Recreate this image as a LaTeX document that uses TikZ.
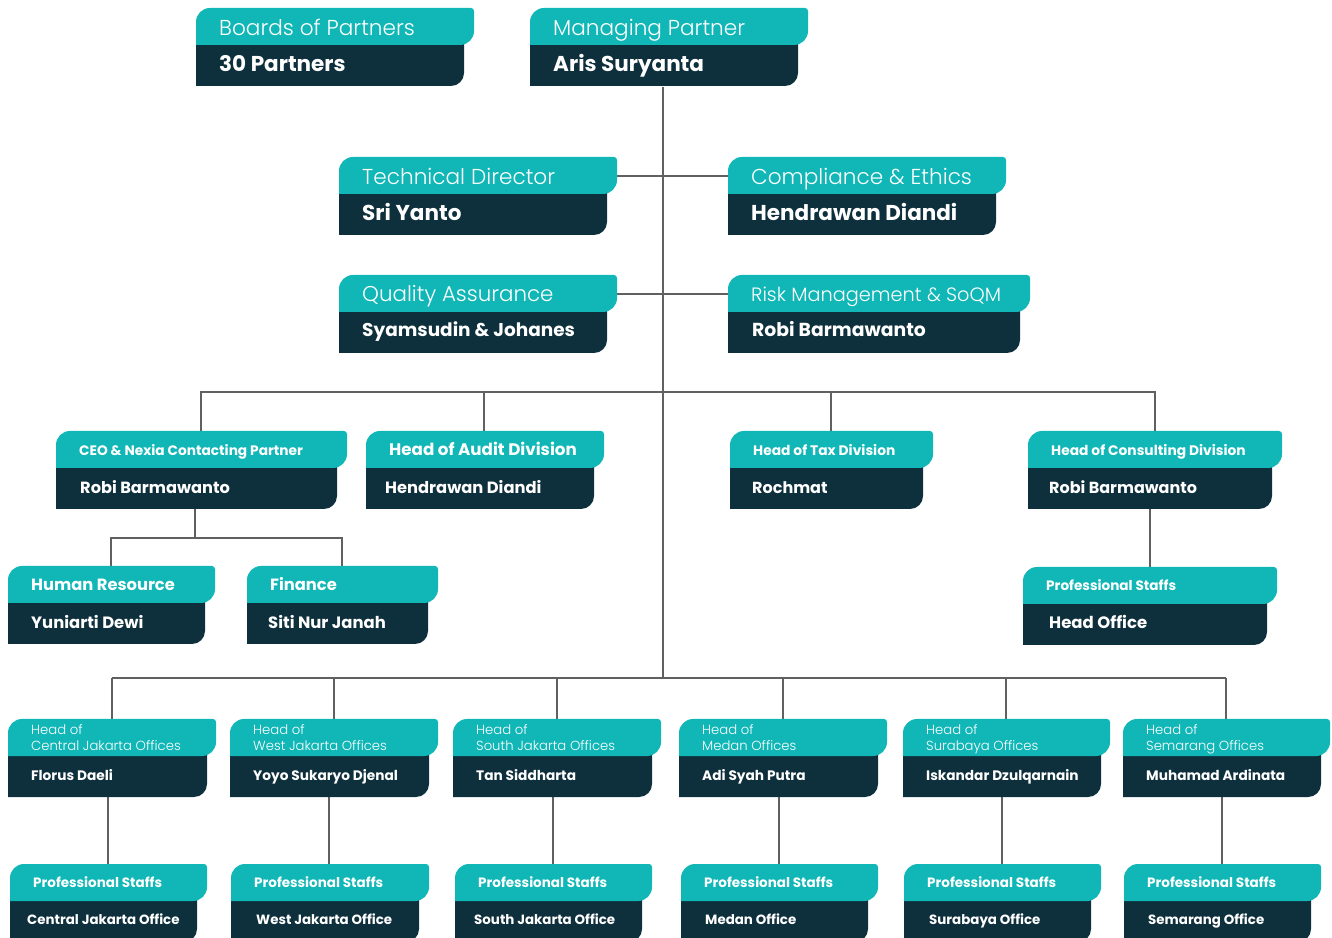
\documentclass[tikz,border=0pt]{standalone}
\usepackage{fontspec}
\setmainfont{Poppins}
\newfontfamily\lightf{Poppins Light}
\definecolor{tl}{HTML}{11B7B7}
\definecolor{dk}{HTML}{0E2F3C}
\definecolor{ln}{HTML}{606060}
\def\tyo{0}\def\byo{0}
\tikzset{
  lbl/.style={inner sep=0pt, text height=1.0em, text depth=0pt, anchor=west, text=white},
  wire/.style={draw=ln, line width=2.4pt},
  set big/.style={/utils/exec={\def\tyo{3.5}\def\byo{3}}, tf/.style={font=\lightf\fontsize{21.6}{26}\selectfont}, bf/.style={font=\bfseries\fontsize{21.5}{26}\selectfont}},
  set qa/.style={/utils/exec={\def\tyo{3}\def\byo{0.5}}, tf/.style={font=\lightf\fontsize{21.4}{26}\selectfont}, bf/.style={font=\bfseries\fontsize{18.5}{22}\selectfont}},
  set risk/.style={/utils/exec={\def\tyo{3}\def\byo{0.5}}, tf/.style={font=\lightf\fontsize{19.3}{23}\selectfont}, bf/.style={font=\bfseries\fontsize{18.8}{22}\selectfont}},
  set ceo/.style={/utils/exec={\def\tyo{0.5}\def\byo{2}}, tf/.style={font=\bfseries\fontsize{13.7}{16}\selectfont}, bf/.style={font=\bfseries\fontsize{16.2}{19}\selectfont}},
  set audit/.style={/utils/exec={\def\tyo{1}\def\byo{2}}, tf/.style={font=\bfseries\fontsize{16.7}{20}\selectfont}, bf/.style={font=\bfseries\fontsize{16.3}{19}\selectfont}},
  set tax/.style={/utils/exec={\def\tyo{0.5}\def\byo{2}}, tf/.style={font=\bfseries\fontsize{13.8}{16}\selectfont}, bf/.style={font=\bfseries\fontsize{16}{19}\selectfont}},
  set hr/.style={/utils/exec={\def\tyo{1}\def\byo{2}}, tf/.style={font=\bfseries\fontsize{16.3}{19}\selectfont}, bf/.style={font=\bfseries\fontsize{16.4}{19}\selectfont}},
  set ho/.style={/utils/exec={\def\tyo{0}\def\byo{1}}, tf/.style={font=\bfseries\fontsize{13.6}{16}\selectfont}, bf/.style={font=\bfseries\fontsize{16.5}{19}\selectfont}},
  set off/.style={/utils/exec={\def\tyo{0}\def\byo{0}}, tf/.style={font=\lightf\fontsize{13.2}{16}\selectfont}, bf/.style={font=\bfseries\fontsize{13.7}{16}\selectfont}},
  set staff/.style={/utils/exec={\def\tyo{-1}\def\byo{-1}}, tf/.style={font=\bfseries\fontsize{13.5}{16}\selectfont}, bf/.style={font=\bfseries\fontsize{13.4}{16}\selectfont}},
}
% #1 name, #2 left, #3 top (px from top), #4 teal right, #5 style set, #6 top text, #7 bottom text, #8 bottom text inset
\newcommand\obox[8]{%
  \begin{scope}[#5]
  \pgfmathsetmacro\tY{937-#3}%
  \pgfmathsetmacro\tbY{937-#3-37}%
  \pgfmathsetmacro\bY{937-#3-78}%
  \pgfmathsetmacro\rd{#4-10}%
  \fill[dk] (#2,\tbY+3) -- (\rd,\tbY+3) -- (\rd,\bY+13) arc[start angle=0,end angle=-90,radius=13] -- (#2,\bY) -- cycle;
  \fill[tl] (#2,\tbY) -- (#2,\tY-14) arc[start angle=180,end angle=90,radius=14] -- (#4-3,\tY) arc[start angle=90,end angle=0,radius=3] -- (#4,\tbY+14) arc[start angle=0,end angle=-90,radius=14] -- cycle;
  \node[lbl,tf] (#1-t) at (#2+23,{937-#3-19-\tyo}) {#6};
  \node[lbl,bf] (#1-b) at (#2+#8,{937-#3-56-\byo}) {#7};
  \end{scope}}
% office head box with two-line title
\newcommand\ofbox[6]{%
  \begin{scope}[set off]
  \pgfmathsetmacro\tY{937-#3}%
  \pgfmathsetmacro\tbY{937-#3-37}%
  \pgfmathsetmacro\bY{937-#3-78}%
  \pgfmathsetmacro\rd{#4-9}%
  \fill[dk] (#2,\tbY+3) -- (\rd,\tbY+3) -- (\rd,\bY+13) arc[start angle=0,end angle=-90,radius=13] -- (#2,\bY) -- cycle;
  \fill[tl] (#2,\tbY) -- (#2,\tY-14) arc[start angle=180,end angle=90,radius=14] -- (#4-3,\tY) arc[start angle=90,end angle=0,radius=3] -- (#4,\tbY+14) arc[start angle=0,end angle=-90,radius=14] -- cycle;
  \node[inner sep=0pt, anchor=base west, align=left, text=white, tf] (#1-t) at (#2+23,{937-#3-31}) {Head of\\#5};
  \node[lbl,bf] (#1-b) at (#2+23,{937-#3-56}) {#6};
  \end{scope}}
\begin{document}
\begin{tikzpicture}[x=1pt,y=1pt]
\useasboundingbox (0,0) rectangle (1332,937);
\clip (0,0) rectangle (1332,937);
% ---------- connector coordinates ----------
\coordinate (mp-bot) at (663,850);
\coordinate (trunk-end) at (663,259);
\coordinate (td-r) at (617,761);
\coordinate (ce-l) at (728,761);
\coordinate (qa-r) at (617,643);
\coordinate (rm-l) at (728,643);
\coordinate (bus1-l) at (201,545);
\coordinate (bus1-r) at (1155,545);
\coordinate (ceo-top) at (201,506);
\coordinate (aud-top) at (484,506);
\coordinate (aud-j) at (484,545);
\coordinate (tax-top) at (831,506);
\coordinate (tax-j) at (831,545);
\coordinate (con-top) at (1155,506);
\coordinate (ceo-bot) at (195,428);
\coordinate (ceo-j) at (195,399);
\coordinate (bus2-l) at (111,399);
\coordinate (bus2-r) at (342,399);
\coordinate (hr-top) at (111,371);
\coordinate (fin-top) at (342,371);
\coordinate (con-bot) at (1150,428);
\coordinate (ho-top) at (1150,370);
\coordinate (bus3-l) at (112,259);
\coordinate (bus3-r) at (1226,259);
\foreach \n/\x/\xs in {cj/112/108, wj/334/329, sj/557/553, md/783/779, sb/1006/1002, sm/1226/1222}{
  \coordinate (\n-j) at (\x,259);
  \coordinate (\n-top) at (\x,218);
  \coordinate (\n-bot) at (\xs,140);
  \coordinate (\n-stop) at (\xs,73);
}
% ---------- connectors ----------
\draw[wire] (mp-bot) -- (trunk-end);
\draw[wire] (td-r) -- (ce-l);
\draw[wire] (qa-r) -- (rm-l);
\draw[wire] (ceo-top) -- (bus1-l) -- (bus1-r) -- (con-top);
\draw[wire] (aud-j) -- (aud-top);
\draw[wire] (tax-j) -- (tax-top);
\draw[wire] (ceo-bot) -- (ceo-j);
\draw[wire] (hr-top) -- (bus2-l) -- (bus2-r) -- (fin-top);
\draw[wire] (con-bot) -- (ho-top);
\draw[wire] (bus3-l) -- (bus3-r);
\foreach \n in {cj,wj,sj,md,sb,sm}{
  \draw[wire] (\n-j) -- (\n-top);
  \draw[wire] (\n-bot) -- (\n-stop);
}
% ---------- boxes ----------
\obox{bp}{196}{8}{474}{set big}{Boards of Partners}{30 Partners}{23}
\obox{mp}{530}{8}{808}{set big}{Managing Partner}{Aris Suryanta}{23}
\obox{td}{339}{157}{617}{set big}{Technical Director}{Sri Yanto}{23}
\obox{ce}{728}{157}{1006}{set big}{Compliance \& Ethics}{Hendrawan Diandi}{23}
\obox{qa}{339}{275}{617}{set qa}{Quality Assurance}{Syamsudin \& Johanes}{23}
\obox{rm}{728}{275}{1030}{set risk}{Risk Management \& SoQM}{Robi Barmawanto}{24}
\obox{ceo}{56}{431}{347}{set ceo}{CEO \& Nexia Contacting Partner}{Robi Barmawanto}{24}
\obox{aud}{366}{431}{604}{set audit}{Head of Audit Division}{Hendrawan Diandi}{19}
\obox{tax}{730}{431}{933}{set tax}{Head of Tax Division}{Rochmat}{22}
\obox{con}{1028}{431}{1282}{set tax}{Head of Consulting Division}{Robi Barmawanto}{21}
\obox{hr}{8}{566}{215}{set hr}{Human Resource}{Yuniarti Dewi}{23}
\obox{fin}{247}{566}{438}{set hr}{Finance}{Siti Nur Janah}{21}
\obox{ho}{1023}{567}{1277}{set ho}{Professional Staffs}{Head Office}{26}
\ofbox{ocj}{8}{719}{216}{Central Jakarta Offices}{Florus Daeli}
\ofbox{owj}{230}{719}{438}{West Jakarta Offices}{Yoyo Sukaryo Djenal}
\ofbox{osj}{453}{719}{661}{South Jakarta Offices}{Tan Siddharta}
\ofbox{omd}{679}{719}{887}{Medan Offices}{Adi Syah Putra}
\ofbox{osb}{903}{719}{1110}{Surabaya Offices}{Iskandar Dzulqarnain}
\ofbox{osm}{1123}{719}{1330}{Semarang Offices}{Muhamad Ardinata}
\obox{scj}{10}{864}{207}{set staff}{Professional Staffs}{Central Jakarta Office}{17}
\obox{swj}{231}{864}{429}{set staff}{Professional Staffs}{West Jakarta Office}{25}
\obox{ssj}{455}{864}{652}{set staff}{Professional Staffs}{South Jakarta Office}{19}
\obox{smd}{681}{864}{878}{set staff}{Professional Staffs}{Medan Office}{24}
\obox{ssb}{904}{864}{1101}{set staff}{Professional Staffs}{Surabaya Office}{25}
\obox{ssm}{1124}{864}{1321}{set staff}{Professional Staffs}{Semarang Office}{24}
\end{tikzpicture}
\end{document}
